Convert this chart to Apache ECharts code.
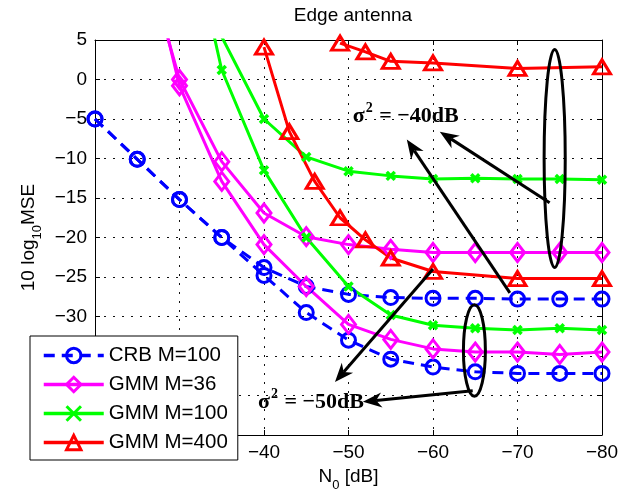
<!DOCTYPE html>
<html>
<head>
<meta charset="utf-8">
<script src="https://cdn.jsdelivr.net/npm/echarts@6/dist/echarts.min.js"></script>
<style>
  html, body { margin: 0; padding: 0; background: #fff; }
  #chart { width: 630px; height: 499px; }
</style>
</head>
<body>
<div id="chart"></div>
<script>
// N0 [dB] sample points
const n0Crb = [-20, -25, -30, -35, -40, -45, -50, -55, -60, -65, -70, -75, -80];
const n0M36 = [-25, -30, -35, -40, -45, -50, -55, -60, -65, -70, -75, -80];
const n0M100a = [-35, -40, -45, -50, -55, -60, -65, -70, -75, -80];
const n0M100b = [-30, -35, -40, -45, -50, -55, -60, -65, -70, -75, -80];
const n0M400a = [-49, -52, -55, -60, -70, -80];
const n0M400b = [-40, -43, -46, -49, -52, -55, -60, -70, -80];

// 10 log10 MSE, "a" = sigma^2 -40dB, "b" = sigma^2 -50dB
const crbA = [-5, -10.1, -15.2, -20, -23.8, -26.2, -27.2, -27.6, -27.7, -27.7, -27.8, -27.8, -27.8];
const crbB = [-5, -10.1, -15.2, -20, -24.8, -29.5, -33.0, -35.4, -36.4, -37.0, -37.2, -37.2, -37.2];
const m36A = [19, 0, -10.4, -16.9, -19.9, -20.9, -21.5, -21.9, -21.9, -21.9, -21.9, -21.9];
const m36B = [21.5, -0.8, -12.9, -20.9, -26.2, -31.0, -32.9, -34.1, -34.5, -34.5, -34.8, -34.5];
const m100A = [5.4, -5.0, -9.8, -11.6, -12.2, -12.6, -12.5, -12.6, -12.6, -12.7];
const m100B = [25, 1.2, -11.5, -20.0, -26.2, -29.8, -31.1, -31.5, -31.7, -31.5, -31.7];
const m400A = [4.6, 3.5, 2.3, 2.1, 1.4, 1.6];
const m400B = [4.1, -6.6, -12.9, -17.5, -20.3, -22.6, -24.3, -25.2, -25.2];

const legendNames = ['CRB M=100', 'GMM M=36', 'GMM M=100', 'GMM M=400'];
const xTicks = { min: -80, max: -20, step: 10 };
const yTicks = { min: -45, max: 5, step: 5 };

// annotation anchors in data coordinates
const ellipses = [
  { c: [-74.4, -10], r: [1.25, 13.8] },
  { c: [-64.9, -34.3], r: [1.3, 5.8] }
];
const arrows = [
  { from: [-73.8, -15.6], to: [-60.8, -6.6] },
  { from: [-69.1, -27.0], to: [-56.9, -7.6] },
  { from: [-60.0, -24.0], to: [-48.4, -38.3] },
  { from: [-64.7, -39.4], to: [-51.7, -40.8] }
];
const notes = [
  { at: [-50.5, -4.5], text: '\u221240dB' },
  { at: [-39.3, -40.7], text: '\u221250dB' }
];

const font = '"Liberation Sans", Arial, sans-serif';
const serif = '"Liberation Serif", "Times New Roman", serif';
const minus = v => String(v).replace('-', '\u2212');
const pairs = (xs, ys) => xs.map((x, i) => [x, ys[i]]);

const chart = echarts.init(document.getElementById('chart'));

const blue = '#0000ff', magenta = '#ff00ff', green = '#00ff00', red = '#ff0000';
const styles = {
  crb: {
    symbol: 'circle', symbolSize: 14,
    itemStyle: { color: 'rgba(0,0,0,0)', borderColor: blue, borderWidth: 3 },
    lineStyle: { color: blue, width: 3, type: [11, 7] }
  },
  m36: {
    symbol: 'diamond', symbolSize: [14, 18],
    itemStyle: { color: 'rgba(0,0,0,0)', borderColor: magenta, borderWidth: 3 },
    lineStyle: { color: magenta, width: 3 }
  },
  m100: {
    symbol: 'path://M0,0L10,10M0,10L10,0', symbolSize: 8,
    itemStyle: { color: 'rgba(0,0,0,0)', borderColor: green, borderWidth: 3.5 },
    lineStyle: { color: green, width: 3 }
  },
  m400: {
    symbol: 'triangle', symbolSize: [17, 14],
    itemStyle: { color: 'rgba(0,0,0,0)', borderColor: red, borderWidth: 3 },
    lineStyle: { color: red, width: 3 }
  }
};
const legendStyles = [styles.crb, styles.m36, styles.m100, styles.m400];

function line(name, style, data) {
  return Object.assign({
    type: 'line', name: name, data: data,
    showAllSymbol: true, clip: true,
    emphasis: { disabled: true }
  }, style);
}

const axisBase = {
  type: 'value',
  axisLine: { show: true, onZero: false, lineStyle: { color: '#000', width: 1 } },
  axisTick: { show: true, inside: true, length: 5, lineStyle: { color: '#000' } }
};

const nameRich = {
  n: { fontFamily: font, fontSize: 19, color: '#000', lineHeight: 22, verticalAlign: 'top' },
  sub: { fontFamily: font, fontSize: 13, color: '#000', lineHeight: 13, padding: [12, 0, 0, 0], verticalAlign: 'top' }
};

const option = {
  animation: false,
  backgroundColor: '#fff',
  title: {
    text: 'Edge antenna', left: 348, top: 1, textAlign: 'center',
    textStyle: { fontFamily: font, fontSize: 19, fontWeight: 'normal', color: '#000' }
  },
  grid: { left: 95, right: 28, top: 40, bottom: 64 },
  legend: {
    data: legendNames.map((name, i) => ({
      name: name,
      lineStyle: { width: 3.5, color: legendStyles[i].lineStyle.color, type: legendStyles[i].lineStyle.type || 'solid' },
      itemStyle: { borderWidth: 3, borderColor: legendStyles[i].itemStyle.borderColor, color: 'rgba(0,0,0,0)' }
    })),
    orient: 'vertical', left: 30, top: 336,
    padding: [9, 10, 7, 12], itemWidth: 60, itemHeight: 18, itemGap: 8,
    backgroundColor: '#fff', borderColor: '#000', borderWidth: 1,
    textStyle: { fontFamily: font, fontSize: 20.5, color: '#000' }
  },
  xAxis: [
    Object.assign({}, axisBase, {
      min: xTicks.min, max: xTicks.max, interval: xTicks.step, inverse: true,
      name: '{n|N}{sub|0}{n| [dB]}', nameLocation: 'middle', nameGap: 30,
      nameTextStyle: { rich: nameRich },
      axisLabel: { fontFamily: font, fontSize: 19, color: '#000', margin: 8, formatter: minus },
      splitLine: { show: true, lineStyle: { color: '#111', width: 1, type: [2, 7] } }
    }),
    Object.assign({}, axisBase, {
      position: 'top', min: xTicks.min, max: xTicks.max, interval: xTicks.step, inverse: true,
      axisLabel: { show: false }, splitLine: { show: false }
    })
  ],
  yAxis: [
    Object.assign({}, axisBase, {
      min: yTicks.min, max: yTicks.max, interval: yTicks.step,
      name: '{n|10 log}{sub|10}{n|MSE}', nameLocation: 'middle', nameGap: 52,
      nameTextStyle: { rich: nameRich },
      axisLabel: { fontFamily: font, fontSize: 19, color: '#000', margin: 8, formatter: minus },
      splitLine: { show: true, lineStyle: { color: '#111', width: 1, type: [2, 7] } }
    }),
    Object.assign({}, axisBase, {
      position: 'right', min: yTicks.min, max: yTicks.max, interval: yTicks.step,
      axisLabel: { show: false }, splitLine: { show: false }
    })
  ],
  series: [
    line(legendNames[0], styles.crb, pairs(n0Crb, crbA)),
    line(legendNames[0], styles.crb, pairs(n0Crb, crbB)),
    line(legendNames[1], styles.m36, pairs(n0M36, m36A)),
    line(legendNames[1], styles.m36, pairs(n0M36, m36B)),
    line(legendNames[2], styles.m100, pairs(n0M100a, m100A)),
    line(legendNames[2], styles.m100, pairs(n0M100b, m100B)),
    line(legendNames[3], styles.m400, pairs(n0M400a, m400A)),
    line(legendNames[3], styles.m400, pairs(n0M400b, m400B))
  ]
};

chart.setOption(option);

// annotations: ellipses, arrows and sigma^2 labels
const px = p => chart.convertToPixel({ xAxisIndex: 0, yAxisIndex: 0 }, p);
const graphics = [];

ellipses.forEach(e => {
  const c = px(e.c);
  const edge = px([e.c[0] - e.r[0], e.c[1] + e.r[1]]);
  graphics.push({
    type: 'ellipse', z: 100,
    shape: { cx: c[0], cy: c[1], rx: Math.abs(edge[0] - c[0]), ry: Math.abs(edge[1] - c[1]) },
    style: { fill: 'none', stroke: '#000', lineWidth: 3 }
  });
});

arrows.forEach(a => {
  const p0 = px(a.from), p1 = px(a.to);
  const dx = p1[0] - p0[0], dy = p1[1] - p0[1];
  const len = Math.sqrt(dx * dx + dy * dy);
  const ux = dx / len, uy = dy / len, nx = -uy, ny = ux;
  const L = 19, W = 7.5;
  const bx = p1[0] - ux * L, by = p1[1] - uy * L;
  const notch = [p1[0] - ux * L * 0.7, p1[1] - uy * L * 0.7];
  graphics.push({
    type: 'line', z: 100,
    shape: { x1: p0[0], y1: p0[1], x2: notch[0], y2: notch[1] },
    style: { stroke: '#000', lineWidth: 3 }
  });
  graphics.push({
    type: 'polygon', z: 100,
    shape: { points: [p1, [bx + nx * W, by + ny * W], notch, [bx - nx * W, by - ny * W]] },
    style: { fill: '#000' }
  });
});

notes.forEach(n => {
  const p = px(n.at);
  graphics.push({
    type: 'text', z: 99,
    style: {
      x: p[0], y: p[1], align: 'left', verticalAlign: 'middle',
      text: '{s|\u03c3}{p|2}{s| = ' + n.text + '}',
      rich: {
        s: { fontFamily: serif, fontSize: 22, fontWeight: 'bold', fill: '#000', lineHeight: 24, verticalAlign: 'bottom' },
        p: { fontFamily: serif, fontSize: 14, fontWeight: 'bold', fill: '#000', lineHeight: 14, padding: [0, 1, 12, 1], verticalAlign: 'bottom' }
      }
    }
  });
});

chart.setOption({ graphic: { elements: graphics } });
</script>
</body>
</html>
